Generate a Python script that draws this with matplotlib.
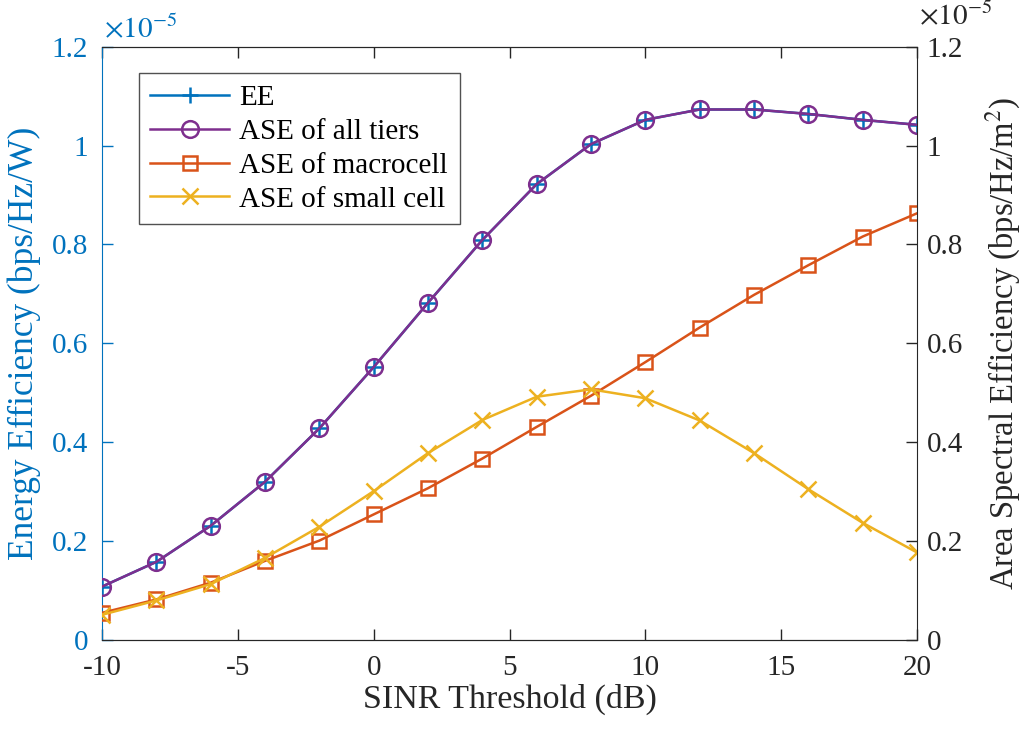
import matplotlib.pyplot as plt
import numpy as np

plt.rcParams['font.family'] = ['Liberation Serif', 'DejaVu Serif']
plt.rcParams['mathtext.fontset'] = 'stix'

# SINR threshold (dB)
sinr = [-10, -8, -6, -4, -2, 0, 2, 4, 6, 8, 10, 12, 14, 16, 18, 20]

# values in units of 1e-5
ee = [0.108, 0.158, 0.231, 0.320, 0.428, 0.552, 0.682, 0.809, 0.922, 1.003,
      1.052, 1.073, 1.073, 1.064, 1.052, 1.042]
ase_all = [0.108, 0.158, 0.231, 0.320, 0.428, 0.552, 0.682, 0.809, 0.922, 1.003,
           1.052, 1.073, 1.073, 1.064, 1.052, 1.042]
ase_macro = [0.055, 0.082, 0.116, 0.160, 0.201, 0.254, 0.307, 0.367, 0.431, 0.494,
             0.562, 0.632, 0.698, 0.758, 0.816, 0.863]
ase_small = [0.051, 0.080, 0.113, 0.166, 0.229, 0.301, 0.378, 0.445, 0.492, 0.507,
             0.489, 0.444, 0.378, 0.305, 0.237, 0.177]

xticks = [-10, -5, 0, 5, 10, 15, 20]
xticklabels = ['-10', '-5', '0', '5', '10', '15', '20']
yticks = [0, 0.2, 0.4, 0.6, 0.8, 1.0, 1.2]
yticklabels = ['0', '0.2', '0.4', '0.6', '0.8', '1', '1.2']

blue = '#0072BD'
purple = '#7E2F8E'
orange = '#D95319'
yellow = '#EDB120'
dark = '#262626'

fig = plt.figure(figsize=(10.25, 7.31), dpi=100)
ax = fig.add_axes([102/1025, 1 - 640/731, 815/1025, 593.3/731])
ax2 = ax.twinx()

l1, = ax.plot(sinr, ee, color=blue, lw=1.8, marker='+', ms=11, mew=1.8, label='EE')
l2, = ax2.plot(sinr, ase_all, color=purple, lw=1.8, marker='o', ms=12, mew=1.8,
               mfc='none', label='ASE of all tiers')
l3, = ax2.plot(sinr, ase_macro, color=orange, lw=1.8, marker='s', ms=10, mew=1.8,
               mfc='none', label='ASE of macrocell')
l4, = ax2.plot(sinr, ase_small, color=yellow, lw=1.8, marker='x', ms=11, mew=1.8,
               label='ASE of small cell')

for a in (ax, ax2):
    a.set_xlim(-10, 20)
    a.set_ylim(0, 1.2)
    a.set_yticks(yticks)
    a.set_yticklabels(yticklabels)

ax.set_xticks(xticks)
ax.set_xticklabels(xticklabels)
ax.tick_params(axis='x', direction='in', top=True, length=8, width=1,
               colors=dark, labelsize=21, pad=11)
ax.tick_params(axis='y', direction='in', length=8, width=1, colors=blue,
               labelsize=21, pad=10)
ax2.tick_params(axis='y', direction='in', length=8, width=1, colors=dark,
                labelsize=21, pad=7)

ax.spines['left'].set_color(blue)
ax.spines['right'].set_visible(False)
ax2.spines['left'].set_visible(False)
for a in (ax, ax2):
    a.spines['top'].set_color(dark)
    a.spines['bottom'].set_color(dark)
ax2.spines['right'].set_color(dark)

ax.set_xlabel('SINR Threshold (dB)', fontsize=24.5, color=dark, labelpad=2)
ax.set_ylabel('Energy Efficiency (bps/Hz/W)', fontsize=25.5, color=blue, labelpad=8)
ax2.set_ylabel('Area Spectral Efficiency (bps/Hz/m$^2$)', fontsize=23.5, color=dark,
               labelpad=15)

ax.text(0.003, 1.006, r'$\times10^{-5}$', transform=ax.transAxes, color=blue,
        fontsize=21, ha='left', va='bottom')
ax2.text(1.003, 1.028, r'$\times10^{-5}$', transform=ax2.transAxes, color=dark,
         fontsize=21, ha='left', va='bottom')

leg = ax2.legend(handles=[l1, l2, l3, l4], loc='upper left',
                 bbox_to_anchor=(0.045, 0.955), fontsize=21, frameon=True,
                 fancybox=False, edgecolor=dark, handlelength=2.7,
                 handletextpad=0.35, borderpad=0.4, labelspacing=0.25,
                 borderaxespad=0)
leg.get_frame().set_linewidth(1.0)

fig.savefig('out.png', dpi=100)
